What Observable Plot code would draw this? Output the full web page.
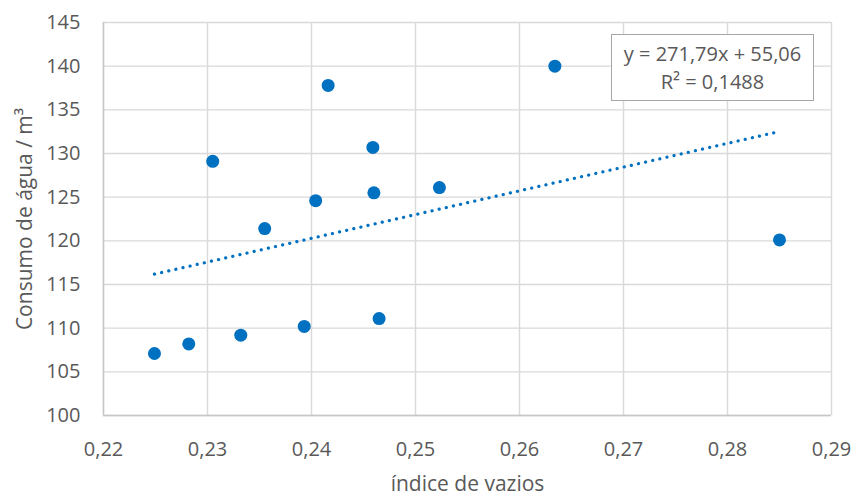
<!DOCTYPE html>
<html>
<head>
<meta charset="utf-8">
<script src="https://cdn.jsdelivr.net/npm/d3@7"></script>
<script src="https://cdn.jsdelivr.net/npm/@observablehq/plot@0.6"></script>
<style>
  html, body { margin: 0; padding: 0; background: #fff; }
  #wrap { position: relative; width: 866px; height: 496px; font-family: "Open Sans", sans-serif; }
  #eq {
    position: absolute; background: #fff; border: 1.3px solid #a6a6a6;
    color: #595959; font-size: 20px; text-align: center; line-height: 28px;
    box-sizing: border-box;
  }
</style>
</head>
<body>
<div id="wrap"></div>
<script>
// Data
const indiceVazios = [0.2249, 0.2282, 0.2332, 0.2393, 0.2465, 0.2305, 0.2355, 0.2404, 0.2416, 0.2459, 0.2460, 0.2523, 0.2634, 0.2850];
const consumoAgua  = [107.1, 108.2, 109.2, 110.2, 111.1, 129.1, 121.4, 124.6, 137.8, 130.7, 125.5, 126.1, 140.0, 120.1];
const slope = 271.79;
const intercept = 55.06;
const r2 = 0.1488;
const xTicks = [0.22, 0.23, 0.24, 0.25, 0.26, 0.27, 0.28, 0.29];
const yTicks = [100, 105, 110, 115, 120, 125, 130, 135, 140, 145];
const xLabel = "índice de vazios";
const yLabel = "Consumo de água / m³";

const points = indiceVazios.map((x, i) => ({x, y: consumoAgua[i]}));
const xExt = d3.extent(indiceVazios);
const trend = xExt.map(x => ({x, y: slope * x + intercept}));
const comma = (v, n) => v.toFixed(n).replace(".", ",");

const W = 866, H = 496;
const mL = 103, mR = 35, mT = 22, mB = 81;
const grid = "#d9d9d9";
const txt = "#595959";
const blue = "#0070C0";

const chart = Plot.plot({
  width: W, height: H,
  marginLeft: mL, marginRight: mR, marginTop: mT, marginBottom: mB,
  style: {fontFamily: "Open Sans, sans-serif", color: txt, background: "#fff", overflow: "visible"},
  x: {domain: [0.22, 0.29], ticks: xTicks},
  y: {domain: [100, 145], ticks: yTicks},
  marks: [
    Plot.gridX(xTicks, {stroke: grid, strokeOpacity: 1, strokeWidth: 1.4}),
    Plot.gridY(yTicks, {stroke: grid, strokeOpacity: 1, strokeWidth: 1.4}),
    Plot.ruleX([0.22], {stroke: "#c6c6c6", strokeWidth: 1.4}),
    Plot.ruleY([100], {stroke: "#c6c6c6", strokeWidth: 1.4}),
    Plot.axisX(xTicks, {tickSize: 0, tickPadding: 26, fontSize: 20, fill: txt,
      tickFormat: d => comma(d, 2), label: null}),
    Plot.axisY(yTicks, {tickSize: 0, tickPadding: 23, fontSize: 20, fill: txt,
      tickFormat: d => String(d), label: null}),
    Plot.text([xLabel], {frameAnchor: "bottom", dy: 69, lineAnchor: "middle", fontSize: 21, fill: txt, textAnchor: "middle"}),
    Plot.text([yLabel], {frameAnchor: "left", dx: -78, rotate: -90, fontSize: 21, fill: txt, textAnchor: "middle"}),
    Plot.line(trend, {x: "x", y: "y", stroke: blue, strokeWidth: 3.2, strokeDasharray: "0.1 7.2", strokeLinecap: "round"}),
    Plot.dot(points, {x: "x", y: "y", r: 6.5, fill: blue, stroke: "none"})
  ]
});
document.getElementById("wrap").appendChild(chart);

const eq = document.createElement("div");
eq.id = "eq";
eq.style.left = "611px"; eq.style.top = "34px"; eq.style.width = "203px"; eq.style.height = "67px";
eq.style.paddingTop = "5px";
eq.innerHTML = `y = ${comma(slope, 2)}x + ${comma(intercept, 2)}<br>R² = ${comma(r2, 4)}`;
document.getElementById("wrap").appendChild(eq);
</script>
</body>
</html>
